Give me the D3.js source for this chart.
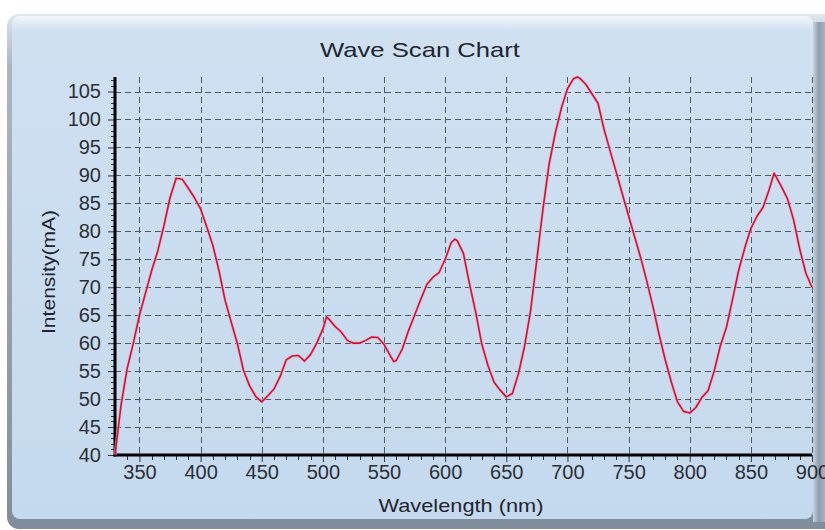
<!DOCTYPE html>
<html>
<head>
<meta charset="utf-8">
<script src="https://cdn.jsdelivr.net/npm/d3@7"></script>
<style>
  html, body { margin: 0; padding: 0; background: #ffffff; }
  svg { display: block; }
</style>
</head>
<body>
<svg id="chart" width="825" height="530"></svg>
<script>
// ---------------- DATA ----------------
const chartTitle = "Wave Scan Chart";
const xAxisTitle = "Wavelength (nm)";
const yAxisTitle = "Intensity(mA)";

const wavelengths = [
  330, 335, 340, 345, 350, 355, 360, 365, 370, 375, 380, 385, 390, 395, 400,
  405, 410, 415, 420, 425, 430, 435, 440, 445, 450, 455, 460, 465, 470, 475,
  480, 485, 490, 495, 500, 503, 505, 510, 515, 520, 525, 530, 535, 540, 545,
  550, 555, 558, 560, 565, 570, 575, 580, 585, 590, 595, 600, 605, 608, 610,
  615, 620, 625, 630, 635, 640, 645, 650, 655, 660, 665, 670, 675, 680, 685,
  690, 695, 700, 705, 708, 710, 715, 720, 725, 730, 735, 740, 745, 750, 755,
  760, 765, 770, 775, 780, 785, 790, 795, 800, 805, 810, 815, 820, 825, 830,
  835, 840, 845, 850, 855, 860, 865, 869, 875, 880, 885, 890, 895, 900
];
const intensities = [
  40.0, 49.0, 55.5, 60.0, 65.0, 69.0, 73.0, 76.5, 81.0, 86.0, 89.5, 89.3, 87.7, 86.0, 84.0,
  80.8, 77.5, 73.0, 67.7, 63.8, 60.0, 55.2, 52.4, 50.5, 49.5, 50.6, 51.8, 54.0, 57.0, 57.7,
  57.8, 56.8, 58.0, 60.0, 62.5, 64.7, 64.3, 63.0, 62.0, 60.5, 60.0, 60.0, 60.5, 61.1, 61.0,
  59.8, 57.8, 56.7, 56.9, 59.0, 62.2, 65.0, 67.8, 70.5, 71.8, 72.6, 75.0, 78.0, 78.6, 78.3,
  76.0, 70.5, 65.5, 59.8, 56.0, 53.0, 51.6, 50.4, 51.0, 54.6, 59.5, 66.0, 75.0, 84.0, 92.0,
  97.5, 102.0, 105.5, 107.3, 107.6, 107.4, 106.3, 104.6, 102.9, 98.2, 94.3, 90.5, 86.6, 82.8, 79.0,
  75.2, 71.0, 66.5, 61.5, 57.0, 53.0, 49.5, 47.8, 47.5, 48.5, 50.3, 51.5, 55.0, 59.5, 62.8,
  67.8, 73.0, 77.0, 80.5, 82.7, 84.3, 87.5, 90.4, 88.0, 85.8, 82.0, 76.8, 72.5, 70.0
];

const xTickValues = [350, 400, 450, 500, 550, 600, 650, 700, 750, 800, 850, 900];
const yTickValues = [40, 45, 50, 55, 60, 65, 70, 75, 80, 85, 90, 95, 100, 105];
const xDomain = [330, 900];
const yMin = 40;

// ---------------- LAYOUT ----------------
const svg = d3.select("#chart");
const plot = { left: 115, right: 812, top: 77, bottom: 455 };

const defs = svg.append("defs");
const frameGrad = defs.append("linearGradient").attr("id", "frameGrad")
  .attr("x1", 0).attr("y1", 0).attr("x2", 0).attr("y2", 1);
frameGrad.append("stop").attr("offset", "0%").attr("stop-color", "#dfe6ee");
frameGrad.append("stop").attr("offset", "10%").attr("stop-color", "#a9b6c4");
frameGrad.append("stop").attr("offset", "100%").attr("stop-color", "#7f8d9c");

const bgGrad = defs.append("linearGradient").attr("id", "bgGrad")
  .attr("x1", 0).attr("y1", 0).attr("x2", 0).attr("y2", 1);
bgGrad.append("stop").attr("offset", "0%").attr("stop-color", "#f2f6fa");
bgGrad.append("stop").attr("offset", "3%").attr("stop-color", "#cfe0f1");
bgGrad.append("stop").attr("offset", "100%").attr("stop-color", "#c5d9ee");

const sideGrad = defs.append("linearGradient").attr("id", "sideGrad")
  .attr("x1", 0).attr("y1", 0).attr("x2", 1).attr("y2", 0);
sideGrad.append("stop").attr("offset", "0%").attr("stop-color", "#c5d3e2");
sideGrad.append("stop").attr("offset", "50%").attr("stop-color", "#8d9cac");
sideGrad.append("stop").attr("offset", "100%").attr("stop-color", "#a7b4c2");

// frame / panel
svg.append("rect").attr("x", 7).attr("y", 14).attr("width", 840).attr("height", 515)
  .attr("rx", 12).attr("fill", "url(#frameGrad)");
svg.append("rect").attr("x", 813).attr("y", 22).attr("width", 12).attr("height", 500)
  .attr("fill", "url(#sideGrad)");
svg.append("rect").attr("x", 12).attr("y", 16).attr("width", 801).attr("height", 503)
  .attr("rx", 8).attr("fill", "url(#bgGrad)");

// ---------------- SCALES ----------------
const x = d3.scaleLinear().domain(xDomain).range([plot.left, plot.right]);
const y = d3.scaleLinear().domain([yMin, d3.max(intensities)]).range([plot.bottom, plot.top]);

// ---------------- GRID ----------------
const grid = svg.append("g").attr("stroke", "#4d5966").attr("stroke-width", 1)
  .attr("stroke-dasharray", "6,4").attr("fill", "none");
grid.selectAll("line.v").data(xTickValues).join("line").attr("class", "v")
  .attr("x1", d => Math.round(x(d)) + 0.5).attr("x2", d => Math.round(x(d)) + 0.5)
  .attr("y1", plot.top).attr("y2", plot.bottom);
grid.selectAll("line.h").data(yTickValues.filter(d => d > yMin)).join("line").attr("class", "h")
  .attr("y1", d => Math.round(y(d)) + 0.5).attr("y2", d => Math.round(y(d)) + 0.5)
  .attr("x1", plot.left).attr("x2", plot.right);

// ---------------- MINOR TICKS ----------------
const xMinor = d3.range(340, 901, 10).filter(v => !xTickValues.includes(v));
svg.append("g").selectAll("line").data(xMinor).join("line")
  .attr("x1", d => Math.round(x(d)) + 0.5).attr("x2", d => Math.round(x(d)) + 0.5)
  .attr("y1", plot.bottom).attr("y2", plot.bottom + 5)
  .attr("stroke", "#333").attr("stroke-width", 1);
const yMinor = d3.range(41, 108, 1).filter(v => !yTickValues.includes(v));
svg.append("g").selectAll("line").data(yMinor).join("line")
  .attr("y1", d => Math.round(y(d)) + 0.5).attr("y2", d => Math.round(y(d)) + 0.5)
  .attr("x1", plot.left - 4).attr("x2", plot.left)
  .attr("stroke", "#333").attr("stroke-width", 1);

// ---------------- AXES ----------------
const fontFam = "Arial, 'Liberation Sans', Helvetica, sans-serif";
const xAxis = svg.append("g").attr("transform", `translate(0,${plot.bottom})`)
  .call(d3.axisBottom(x).tickValues(xTickValues).tickSize(7).tickPadding(3).tickFormat(d3.format("d")));
const yAxis = svg.append("g").attr("transform", `translate(${plot.left},0)`)
  .call(d3.axisLeft(y).tickValues(yTickValues).tickSize(7).tickPadding(7).tickFormat(d3.format("d")));
[xAxis, yAxis].forEach(a => {
  a.select(".domain").remove();
  a.selectAll(".tick line").attr("stroke", "#333").attr("stroke-width", 1);
  a.selectAll(".tick text").attr("fill", "#2b2f36").style("font-family", fontFam).style("font-size", "20px");
});

// thick axis lines
svg.append("line").attr("x1", plot.left).attr("x2", plot.left)
  .attr("y1", plot.top).attr("y2", plot.bottom + 1.5)
  .attr("stroke", "#000").attr("stroke-width", 3);
svg.append("line").attr("x1", plot.left - 1.5).attr("x2", plot.right)
  .attr("y1", plot.bottom).attr("y2", plot.bottom)
  .attr("stroke", "#000").attr("stroke-width", 3);

// ---------------- LINE ----------------
const pts = wavelengths.map((w, i) => [w, intensities[i]]);
const line = d3.line().x(d => x(d[0])).y(d => y(d[1]));
svg.append("path").datum(pts).attr("d", line)
  .attr("fill", "none").attr("stroke", "#f2a9b6").attr("stroke-width", 3.2)
  .attr("stroke-linejoin", "round").attr("opacity", 0.7);
svg.append("path").datum(pts).attr("d", line)
  .attr("fill", "none").attr("stroke", "#c8143a").attr("stroke-width", 1.6)
  .attr("stroke-linejoin", "round");

// ---------------- TITLES ----------------
svg.append("text").attr("x", 420).attr("y", 57).attr("text-anchor", "middle")
  .attr("textLength", 200).attr("lengthAdjust", "spacingAndGlyphs")
  .style("font-family", fontFam).style("font-size", "21px").attr("fill", "#1e2530")
  .text(chartTitle);
svg.append("text").attr("x", 461).attr("y", 512).attr("text-anchor", "middle")
  .attr("textLength", 165).attr("lengthAdjust", "spacingAndGlyphs")
  .style("font-family", fontFam).style("font-size", "19px").attr("fill", "#1e2530")
  .text(xAxisTitle);
svg.append("text").attr("transform", "translate(55,272) rotate(-90)").attr("text-anchor", "middle")
  .attr("textLength", 124).attr("lengthAdjust", "spacingAndGlyphs")
  .style("font-family", fontFam).style("font-size", "19px").attr("fill", "#1e2530")
  .text(yAxisTitle);
</script>
</body>
</html>
